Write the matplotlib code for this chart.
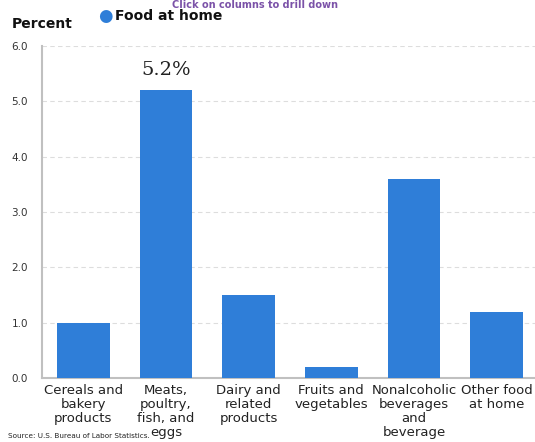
import matplotlib
matplotlib.use("Agg")
import matplotlib.pyplot as plt

categories = [
    "Cereals and\nbakery\nproducts",
    "Meats,\npoultry,\nfish, and\neggs",
    "Dairy and\nrelated\nproducts",
    "Fruits and\nvegetables",
    "Nonalcoholic\nbeverages\nand\nbeverage",
    "Other food\nat home",
]
values = [1.0, 5.2, 1.5, 0.2, 3.6, 1.2]
yticks = [0.0, 1.0, 2.0, 3.0, 4.0, 5.0, 6.0]

BLUE = "#2f7ed8"

fig = plt.figure(figsize=(5.35, 4.42), dpi=100)
ax = fig.add_axes([42 / 535, 1 - 378 / 442, (538 - 42) / 535, (378 - 46) / 442])

x = range(len(values))
ax.bar(x, values, width=0.64, color=BLUE, zorder=3)
ax.set_xlim(-0.5, len(values) - 0.5)
ax.set_ylim(0, 6.0)
ax.set_yticks(yticks)
ax.set_yticklabels([f"{t:.1f}" for t in yticks], fontsize=7.5, color="#333333")
ax.set_xticks(list(x))
ax.set_xticklabels(categories, fontsize=9.5, color="#222222", linespacing=1.13)
ax.tick_params(axis="both", length=0)
ax.tick_params(axis="y", pad=10)
ax.tick_params(axis="x", pad=4)
ax.grid(axis="y", color="#dddddd", linestyle=(0, (4, 3)), linewidth=0.8, zorder=0)

for side in ["top", "right"]:
    ax.spines[side].set_visible(False)
for side in ["left", "bottom"]:
    ax.spines[side].set_color("#c0c0c0")
    ax.spines[side].set_linewidth(1.5)

# label on the tallest column
ax.annotate(f"{values[1]:.1f}%", (1, values[1]), xytext=(0, 8), textcoords="offset points",
            ha="center", va="bottom", fontsize=14, family="DejaVu Serif", color="#222222")

fig.text(255 / 535, 1.0, "Click on columns to drill down", ha="center", va="top",
         fontsize=7, fontweight="bold", color="#7b52a8")
fig.text(12 / 535, 1 - 24 / 442, "Percent", ha="left", va="center", fontsize=10,
         fontweight="bold", color="#111111")
fig.text(105 / 535, 1 - 16 / 442, "\u25cf", ha="center", va="center", fontsize=12, color=BLUE)
fig.text(115 / 535, 1 - 16 / 442, "Food at home", ha="left", va="center", fontsize=10,
         fontweight="bold", color="#111111")
fig.text(8 / 535, 1 - 436 / 442, "Source: U.S. Bureau of Labor Statistics.", ha="left",
         va="center", fontsize=5.2, color="#222222")

fig.savefig("out.png", dpi=100)
